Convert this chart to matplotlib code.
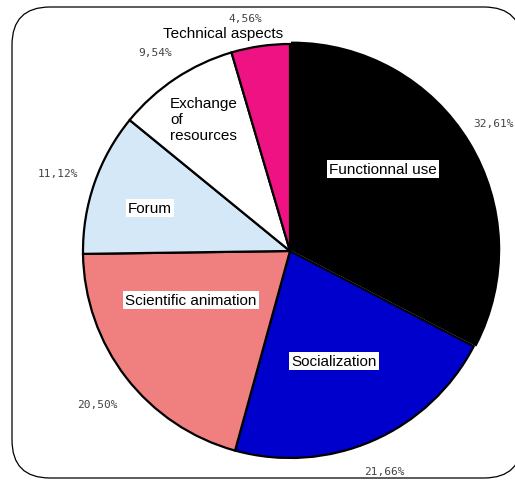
import matplotlib
matplotlib.use("Agg")
import matplotlib.pyplot as plt
from matplotlib.patches import FancyBboxPatch
from matplotlib.transforms import IdentityTransform

categories = ["Functionnal use", "Socialization", "Scientific animation", "Forum",
              "Exchange\nof\nresources", "Technical aspects"]
values = [32.61, 21.66, 20.50, 11.12, 9.54, 4.56]
pct_labels = ["32,61%", "21,66%", "20,50%", "11,12%", "9,54%", "4,56%"]
colors = ["#000000", "#0000CC", "#F08080", "#D4E8F8", "#FFFFFF", "#EE1283"]

W, H = 515, 481
fig = plt.figure(figsize=(W / 100, H / 100), dpi=100)

def fx(x): return x / W
def fy(y): return 1 - y / H

# rounded border (display pixel coords, origin bottom-left); right side runs off the image
border = FancyBboxPatch((12, H - 479), 510, 471,
                        boxstyle="round,pad=0,rounding_size=38",
                        transform=IdentityTransform(), facecolor="white",
                        edgecolor="black", linewidth=0.9, clip_on=False, zorder=-5)
fig.patches.append(border)

cx, cy, r = 290, 252, 207
ax = fig.add_axes([fx(cx - r), fy(cy + r), 2 * r / W, 2 * r / H])
ax.set_zorder(1)
ax.patch.set_visible(False)
wedges, _ = ax.pie(values, colors=colors, startangle=90, counterclock=False, radius=1,
                   explode=[0.012, 0, 0, 0, 0, 0],
                   wedgeprops=dict(edgecolor="black", linewidth=1.6))
ax.set_xlim(-1, 1)
ax.set_ylim(-1, 1)
ax.axis("off")

label_pos = [(383, 170), (334, 362), (191, 301), (150, 209), (170, 120), (223, 34)]
for (x, y), lab in zip(label_pos, categories):
    if lab.startswith("Exchange"):
        fig.text(fx(x), fy(y), lab, ha="left", va="center", fontsize=11,
                 family="Liberation Sans", linespacing=1.15, zorder=5,
                 bbox=dict(facecolor="white", edgecolor="none", pad=1.5))
    else:
        fig.text(fx(x), fy(y), lab, ha="center", va="center", fontsize=11,
                 family="Liberation Sans", zorder=5,
                 bbox=dict(facecolor="white", edgecolor="none", pad=1.5))

pct_pos = [(493, 124), (384, 472), (97, 405), (58, 174), (155, 53), (245, 19)]
for (x, y), lab in zip(pct_pos, pct_labels):
    fig.text(fx(x), fy(y), lab, ha="center", va="center", fontsize=8,
             family="DejaVu Sans Mono", color="#444444", zorder=5)

fig.savefig("out.png", dpi=100)
